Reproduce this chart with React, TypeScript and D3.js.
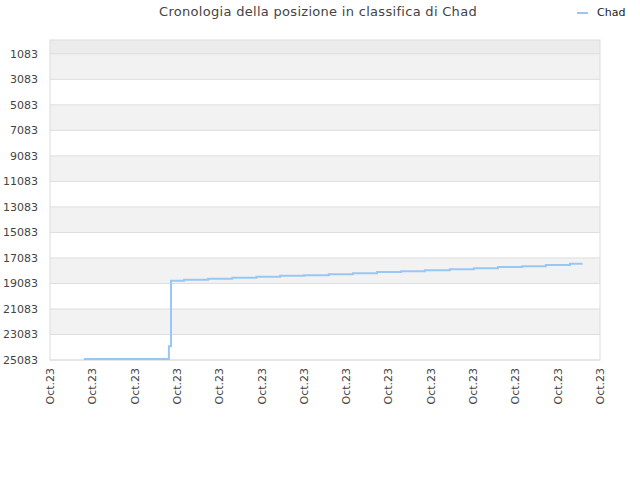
import React from "react";
import * as d3 from "d3";

const title = "Cronologia della posizione in classifica di Chad";
const seriesName = "Chad";
// x positions in tick-interval units, ranks
const xPositions = [0.8, 2.81, 2.86, 3.17, 3.74, 4.31, 4.88, 5.44, 6.01, 6.59, 7.16, 7.73, 8.3, 8.86, 9.45, 10.02, 10.59, 11.16, 11.72, 12.29, 12.59];
const ranks = [25000, 24000, 18878, 18800, 18722, 18643, 18565, 18486, 18431, 18353, 18275, 18180, 18118, 18039, 17961, 17882, 17788, 17725, 17631, 17545, 17545];
const xTickLabels = ["Oct.23", "Oct.23", "Oct.23", "Oct.23", "Oct.23", "Oct.23", "Oct.23", "Oct.23", "Oct.23", "Oct.23", "Oct.23", "Oct.23", "Oct.23", "Oct.23"];
const yTicks = [1083, 3083, 5083, 7083, 9083, 11083, 13083, 15083, 17083, 19083, 21083, 23083, 25083];

export default function App() {
  const W = 640, H = 480;
  const left = 50, right = 600, top = 40, bottom = 360;
  const x = d3.scaleLinear().domain([0, xTickLabels.length - 1]).range([left, right]);
  const y = d3.scaleLinear().domain([0, 25083]).range([top, bottom]);
  const pts = xPositions.map((v, i) => [v, ranks[i]] as [number, number]);
  const line = d3.line<[number, number]>().x(d => x(d[0])).y(d => y(d[1])).curve(d3.curveStepAfter);
  const font = "'DejaVu Sans', Verdana, sans-serif";

  const bands: [number, number][] = [];
  for (let i = 0; i < yTicks.length - 1; i += 2) bands.push([yTicks[i], yTicks[i + 1]]);

  return (
    <svg width={W} height={H} style={{ position: "absolute", left: 0, top: 0, fontFamily: font }}>
      <rect x={0} y={0} width={W} height={H} fill="#fff" />
      <rect x={left} y={top} width={right - left} height={y(yTicks[0]) - top} fill="#ececec" />
      {bands.map((b, i) => (
        <rect key={i} x={left} y={y(b[0])} width={right - left} height={y(b[1]) - y(b[0])} fill="#f2f2f2" />
      ))}
      {yTicks.map((t, i) => (
        <g key={i}>
          <line x1={left} x2={right} y1={y(t)} y2={y(t)} stroke="#dedede" strokeWidth={1} />
          <text x={left - 12} y={y(t)} dy="0.35em" textAnchor="end" fontSize={11} fill="#444">{t}</text>
        </g>
      ))}
      <rect x={left} y={top} width={right - left} height={bottom - top} fill="none" stroke="#dcdcdc" strokeWidth={1} />
      {xTickLabels.map((l, i) => (
        <text key={i} transform={`translate(${x(i) + 4},${bottom + 8}) rotate(-90)`} textAnchor="end" fontSize={11} fill="#444">{l}</text>
      ))}
      <path d={line(pts) || ""} fill="none" stroke="#99c7f3" strokeWidth={2} />
      <text x={318} y={16} textAnchor="middle" fontSize={13} fill="#444" letterSpacing={0.3}>{title}</text>
      <line x1={577} x2={588} y1={13} y2={13} stroke="#99c7f3" strokeWidth={2} />
      <text x={597} y={16} fontSize={11} fill="#222">{seriesName}</text>
    </svg>
  );
}
